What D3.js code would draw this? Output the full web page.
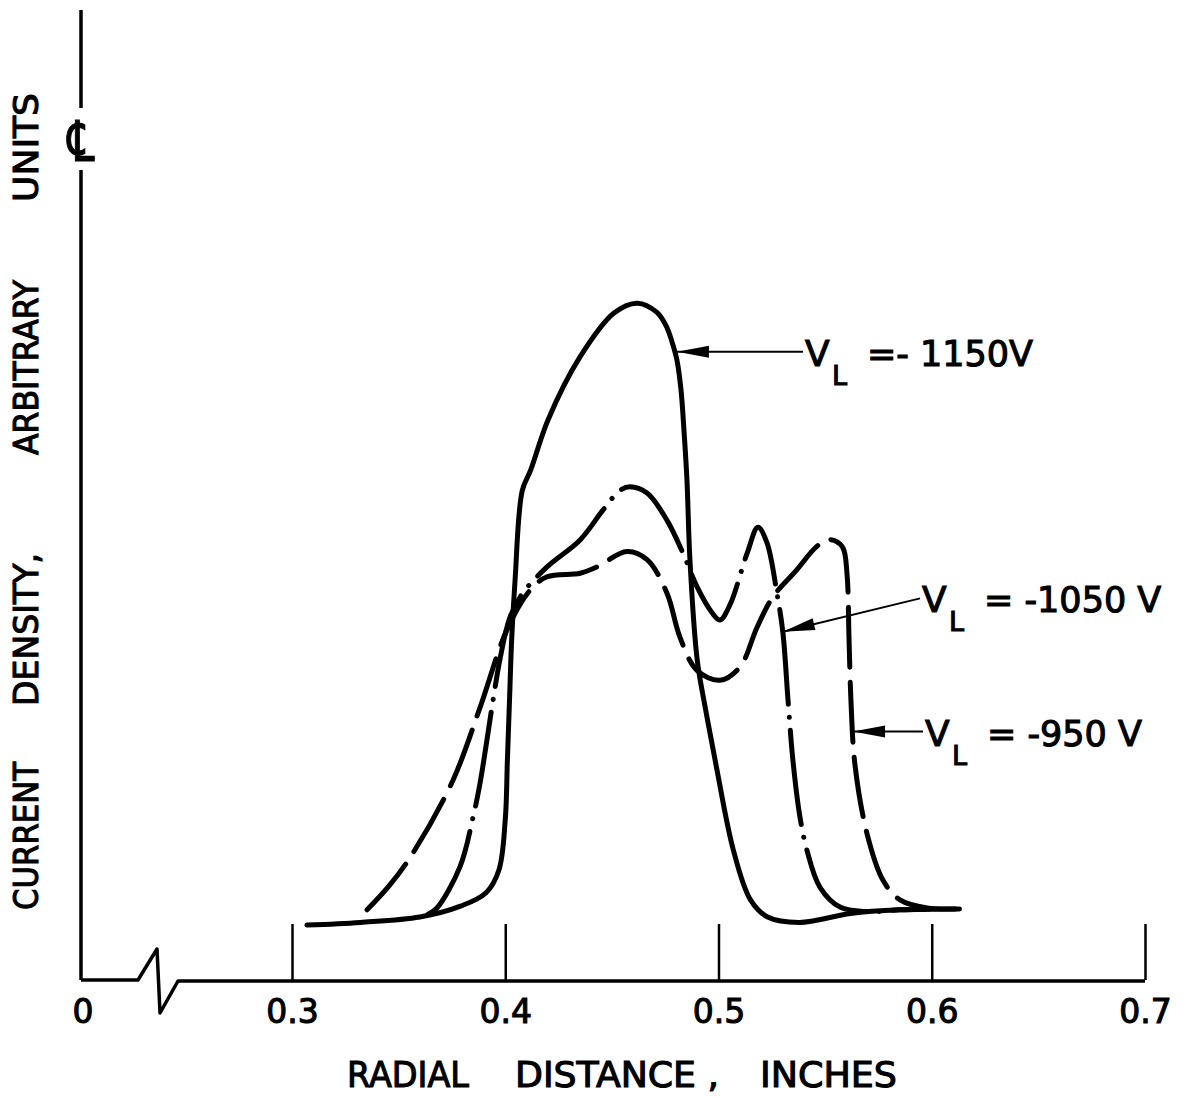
<!DOCTYPE html>
<html>
<head>
<meta charset="utf-8">
<script src="https://cdn.jsdelivr.net/npm/d3@7"></script>
<style>
  body { margin: 0; background: #fff; }
  text { font-family: "DejaVu Sans", sans-serif; fill: #000; }
</style>
</head>
<body>
<svg id="chart" width="1191" height="1098"></svg>
<script>
// ---- data ----
const xTicks = [0.3, 0.4, 0.5, 0.6, 0.7];
const tickLabels = ["0.3", "0.4", "0.5", "0.6", "0.7"];

// V_L = -1150 V (solid)
const x1150 = [0.307, 0.332, 0.360, 0.379, 0.391, 0.397, 0.400, 0.401, 0.402, 0.403, 0.4046, 0.408, 0.412, 0.420, 0.435, 0.451, 0.462, 0.471, 0.4754, 0.4782, 0.4805, 0.4824, 0.4838, 0.4852, 0.4866, 0.490, 0.494, 0.499, 0.507, 0.515, 0.523, 0.538, 0.562, 0.585, 0.613];
const y1150 = [0.61, 0.64, 0.70, 0.82, 0.97, 1.22, 1.78, 2.44, 3.11, 3.78, 4.44, 5.44, 5.67, 6.22, 6.92, 7.41, 7.52, 7.42, 7.27, 7.09, 6.89, 6.56, 6.11, 5.56, 4.67, 3.56, 3.00, 2.37, 1.44, 0.89, 0.70, 0.64, 0.74, 0.78, 0.79];

// V_L = -1050 V (dash-dot)
const x1050 = [0.3638, 0.368, 0.3788, 0.3849, 0.3882, 0.3943, 0.3975, 0.4022, 0.4083, 0.4196, 0.4351, 0.4458, 0.4538, 0.4585, 0.4665, 0.4758, 0.4834, 0.4899, 0.4970, 0.5007, 0.5054, 0.5134, 0.5185, 0.5227, 0.5274, 0.5302, 0.5326, 0.5349, 0.5382, 0.5415, 0.5476, 0.5570, 0.5696, 0.5851, 0.5992];
const y1050 = [0.73, 0.80, 1.26, 1.81, 2.19, 3.11, 3.56, 4.03, 4.30, 4.59, 4.89, 5.22, 5.44, 5.48, 5.41, 5.11, 4.74, 4.37, 4.08, 4.00, 4.17, 4.74, 5.03, 4.86, 4.30, 3.86, 3.11, 2.44, 1.81, 1.44, 1.03, 0.81, 0.76, 0.78, 0.79];

// V_L = -950 V (dashed)
const x950 = [0.3352, 0.3460, 0.3567, 0.3755, 0.3882, 0.4008, 0.4116, 0.4196, 0.4351, 0.4430, 0.4571, 0.4665, 0.4758, 0.4819, 0.4899, 0.5007, 0.5101, 0.5181, 0.5256, 0.5368, 0.5453, 0.5508, 0.5546, 0.5584, 0.5603, 0.5612, 0.5621, 0.5640, 0.5696, 0.5771, 0.5851, 0.5978, 0.6132];
const y950 = [0.78, 1.06, 1.41, 2.22, 3.03, 3.89, 4.33, 4.48, 4.52, 4.59, 4.76, 4.67, 4.30, 3.81, 3.44, 3.33, 3.48, 3.92, 4.26, 4.56, 4.80, 4.89, 4.88, 4.80, 4.50, 3.80, 3.11, 2.39, 1.63, 1.11, 0.89, 0.80, 0.79];

// arrows: tip and tail in data units
const arrowTipX = [0.4805, 0.5302, 0.5631];
const arrowTipY = [6.98, 3.87, 2.76];
const arrowTailX = [0.5396, 0.5945, 0.5959];
const arrowTailY = [6.98, 4.24, 2.76];
const labelNums = ["=- 1150V", "= -1050 V", "= -950 V"];

const yTitleWords = ["CURRENT", "DENSITY,", "ARBITRARY", "UNITS"];
const xTitleWords = ["RADIAL", "DISTANCE ,", "INCHES"];

// ---- layout ----
const svg = d3.select("#chart");
const originX = 81, baseY = 980;
const ink = 1.1; // extra stroke on lettering

const x = d3.scaleLinear().domain([0.3, 0.7]).range([292, 1145]);
const y = d3.scaleLinear().domain([0, 10]).range([baseY, 80]);

// y axis with centreline mark
svg.append("line").attr("x1", originX).attr("x2", originX).attr("y1", 10).attr("y2", 108)
  .attr("stroke", "#000").attr("stroke-width", 3.5);
svg.append("line").attr("x1", originX).attr("x2", originX).attr("y1", 170).attr("y2", baseY)
  .attr("stroke", "#000").attr("stroke-width", 3.5);
svg.append("text")
  .attr("transform", `translate(${originX},161) scale(0.75,1)`)
  .attr("text-anchor", "middle")
  .style("font-size", "56px").attr("stroke", "#000").attr("stroke-width", ink).text("\u2104");

// x axis baseline with break
svg.append("path")
  .attr("d", `M${originX},${baseY} L138,${baseY} L157,949 L160,1013 L178,${baseY + 1} L${x(0.7)},${baseY + 1}`)
  .attr("fill", "none").attr("stroke", "#000").attr("stroke-width", 3.5).attr("stroke-linejoin", "round");

const xAxis = d3.axisBottom(x).tickValues(xTicks).tickFormat((d, i) => tickLabels[i])
  .tickSizeInner(-56).tickSizeOuter(0).tickPadding(20);
const gx = svg.append("g").attr("transform", `translate(0,${baseY})`).call(xAxis);
gx.select(".domain").remove();
gx.selectAll(".tick line").attr("stroke", "#000").attr("stroke-width", 2.5);
gx.selectAll(".tick text").style("font-size", "33px").style("font-family", "DejaVu Sans")
  .attr("fill", "#000").attr("stroke", "#000").attr("stroke-width", ink);
svg.append("text").attr("x", originX + 2).attr("y", 1023).attr("text-anchor", "middle")
  .style("font-size", "33px").attr("stroke", "#000").attr("stroke-width", ink).text("0");

// curves
const line = d3.line().x(d => x(d[0])).y(d => y(d[1])).curve(d3.curveCatmullRom.alpha(0.5));
const series = [
  { xs: x1150, ys: y1150, dash: null },
  { xs: x1050, ys: y1050, dash: "95,13,0.1,13" },
  { xs: x950, ys: y950, dash: "60,15" }
];
series.forEach(s => {
  svg.append("path")
    .datum(s.xs.map((v, i) => [v, s.ys[i]]))
    .attr("d", line)
    .attr("fill", "none").attr("stroke", "#000").attr("stroke-width", 5)
    .attr("stroke-linecap", "round").attr("stroke-linejoin", "round")
    .attr("stroke-dasharray", s.dash);
});

// arrows and labels
arrowTipX.forEach((tx, i) => {
  const x0 = x(tx), y0 = y(arrowTipY[i]);
  const x1 = x(arrowTailX[i]), y1 = y(arrowTailY[i]);
  const ang = Math.atan2(y1 - y0, x1 - x0);
  const L = 32, W = 6;
  const bx = x0 + L * Math.cos(ang), by = y0 + L * Math.sin(ang);
  svg.append("line").attr("x1", x0).attr("y1", y0).attr("x2", x1).attr("y2", y1)
    .attr("stroke", "#000").attr("stroke-width", 2);
  svg.append("path")
    .attr("d", `M${x0},${y0} L${bx - W * Math.sin(ang)},${by + W * Math.cos(ang)} L${bx + W * Math.sin(ang)},${by - W * Math.cos(ang)} Z`)
    .attr("fill", "#000");
  const lx = x1 + 2, ly = y1 + 14;
  svg.append("text").attr("x", lx).attr("y", ly).style("font-size", "36px")
    .attr("stroke", "#000").attr("stroke-width", ink).text("V");
  svg.append("text").attr("x", lx + 27).attr("y", ly + 19).style("font-size", "27px")
    .attr("stroke", "#000").attr("stroke-width", ink).text("L");
  svg.append("text").attr("x", lx + 62).attr("y", ly).style("font-size", "35px")
    .attr("stroke", "#000").attr("stroke-width", ink).attr("xml:space", "preserve")
    .text(labelNums[i]);
});

// y title (rotated words)
const yWordBottom = [910, 706, 455, 202];
const yWordTop = [762, 553, 280, 93];
yTitleWords.forEach((w, i) => {
  svg.append("text")
    .attr("transform", `translate(38,${yWordBottom[i]}) rotate(-90)`)
    .attr("textLength", yWordBottom[i] - yWordTop[i]).attr("lengthAdjust", "spacingAndGlyphs")
    .style("font-size", "34px").attr("stroke", "#000").attr("stroke-width", ink)
    .text(w);
});

// x title
const xWordLeft = [347, 515, 760];
const xWordRight = [469, 719, 897];
xTitleWords.forEach((w, i) => {
  svg.append("text").attr("x", xWordLeft[i]).attr("y", 1087)
    .attr("textLength", xWordRight[i] - xWordLeft[i]).attr("lengthAdjust", "spacingAndGlyphs")
    .attr("xml:space", "preserve")
    .style("font-size", "35px").attr("stroke", "#000").attr("stroke-width", ink)
    .text(w);
});
</script>
</body>
</html>
